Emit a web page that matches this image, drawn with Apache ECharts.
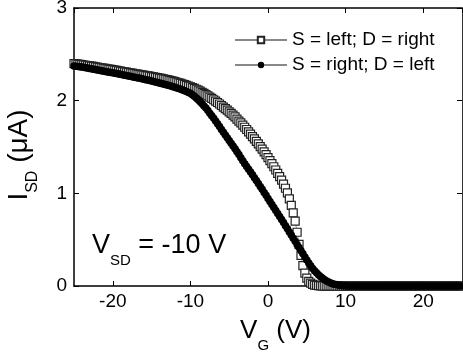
<!DOCTYPE html>
<html>
<head>
<meta charset="utf-8">
<script src="https://cdn.jsdelivr.net/npm/echarts@6/dist/echarts.min.js"></script>
<style>
html,body{margin:0;padding:0;background:#fff;}
#chart{width:463px;height:352px;}
</style>
</head>
<body>
<div id="chart"></div>
<script>
// Gate-voltage sweep: V_G from -25 V to 25 V in 0.25 V steps
const vgStart = -25;
const vgStep = 0.25;

const seriesNames = ['S = left; D = right', 'S = right; D = left'];

// I_SD (uA), S = left; D = right (open squares)
const iSLeft = [
  2.40, 2.397, 2.394, 2.391,
  2.388, 2.385, 2.382, 2.379,
  2.376, 2.372, 2.369, 2.365,
  2.362, 2.358, 2.355, 2.351,
  2.348, 2.344, 2.341, 2.337,
  2.334, 2.33, 2.326, 2.322,
  2.318, 2.314, 2.31, 2.307,
  2.304, 2.3, 2.297, 2.293,
  2.29, 2.286, 2.282, 2.279,
  2.275, 2.271, 2.267, 2.264,
  2.26, 2.256, 2.252, 2.248,
  2.244, 2.24, 2.235, 2.231,
  2.226, 2.221, 2.216, 2.211,
  2.205, 2.199, 2.193, 2.187,
  2.18, 2.173, 2.166, 2.158,
  2.15, 2.141, 2.132, 2.123,
  2.113, 2.102, 2.09, 2.078,
  2.065, 2.052, 2.038, 2.024,
  2.01, 1.995, 1.98, 1.964,
  1.948, 1.931, 1.914, 1.897,
  1.88, 1.862, 1.844, 1.825,
  1.80, 1.78, 1.76, 1.737,
  1.713, 1.689, 1.664, 1.639,
  1.613, 1.587, 1.56, 1.533,
  1.505, 1.476, 1.447, 1.417,
  1.386, 1.354, 1.321, 1.287,
  1.252, 1.216, 1.18, 1.142,
  1.10, 1.055, 1.005, 0.94,
  0.87, 0.79, 0.70, 0.58,
  0.45, 0.33, 0.22, 0.14,
  0.085, 0.05, 0.03, 0.018,
  0.01, 0.006, 0.003, 0.001,
  0, 0, 0, 0,
  0, 0, 0, 0,
  0, 0, 0, 0,
  0, 0, 0, 0,
  0, 0, 0, 0,
  0, 0, 0, 0,
  0, 0, 0, 0,
  0, 0, 0, 0,
  0, 0, 0, 0,
  0, 0, 0, 0,
  0, 0, 0, 0,
  0, 0, 0, 0,
  0, 0, 0, 0,
  0, 0, 0, 0,
  0, 0, 0, 0,
  0, 0, 0, 0,
  0, 0, 0, 0,
  0, 0, 0, 0,
  0
];

// I_SD (uA), S = right; D = left (filled circles)
const iSRight = [
  2.375, 2.372, 2.369, 2.366,
  2.363, 2.36, 2.356, 2.352,
  2.348, 2.344, 2.34, 2.336,
  2.332, 2.328, 2.324, 2.32,
  2.316, 2.312, 2.308, 2.304,
  2.30, 2.296, 2.292, 2.288,
  2.284, 2.28, 2.275, 2.271,
  2.267, 2.263, 2.258, 2.254,
  2.25, 2.245, 2.241, 2.236,
  2.232, 2.227, 2.222, 2.217,
  2.212, 2.207, 2.202, 2.196,
  2.19, 2.185, 2.18, 2.175,
  2.17, 2.164, 2.158, 2.151,
  2.145, 2.138, 2.13, 2.123,
  2.115, 2.107, 2.098, 2.089,
  2.08, 2.064, 2.047, 2.029,
  2.01, 1.988, 1.966, 1.943,
  1.92, 1.893, 1.865, 1.838,
  1.81, 1.78, 1.75, 1.72,
  1.69, 1.66, 1.63, 1.6,
  1.57, 1.54, 1.51, 1.48,
  1.45, 1.418, 1.385, 1.352,
  1.32, 1.29, 1.26, 1.23,
  1.2, 1.169, 1.138, 1.106,
  1.075, 1.043, 1.01, 0.978,
  0.945, 0.912, 0.88, 0.847,
  0.815, 0.782, 0.75, 0.717,
  0.685, 0.651, 0.618, 0.584,
  0.55, 0.516, 0.483, 0.449,
  0.415, 0.381, 0.347, 0.313,
  0.28, 0.249, 0.219, 0.19,
  0.165, 0.142, 0.121, 0.102,
  0.085, 0.07, 0.057, 0.045,
  0.035, 0.027, 0.02, 0.015,
  0.011, 0.008, 0.005, 0.003,
  0.002, 0.001, 0.001, 0,
  0, 0, 0, 0,
  0, 0, 0, 0,
  0, 0, 0, 0,
  0, 0, 0, 0,
  0, 0, 0, 0,
  0, 0, 0, 0,
  0, 0, 0, 0,
  0, 0, 0, 0,
  0, 0, 0, 0,
  0, 0, 0, 0,
  0, 0, 0, 0,
  0, 0, 0, 0,
  0, 0, 0, 0,
  0, 0, 0, 0,
  0
];

const xRange = [-25, 25];
const yTicks = [0, 1, 2, 3];

function toPairs(arr) {
  return arr.map(function (v, i) { return [vgStart + i * vgStep, v]; });
}

const FONT = '"Liberation Sans", Arial, Helvetica, sans-serif';
const chart = echarts.init(document.getElementById('chart'), null, { renderer: 'canvas' });

const axisLineStyle = { color: '#000', width: 1.5 };

const option = {
  animation: false,
  backgroundColor: '#fff',
  textStyle: { fontFamily: FONT, color: '#000' },
  grid: { left: 74, right: 1, top: 8, bottom: 66, containLabel: false, outerBoundsMode: 'none' },
  legend: {
    data: seriesNames,
    orient: 'vertical',
    left: 229,
    top: 25,
    padding: 5,
    itemWidth: 52,
    itemHeight: 8,
    itemGap: 5,
    selectedMode: false,
    textStyle: { fontFamily: FONT, fontSize: 19, color: '#000', lineHeight: 20 }
  },
  xAxis: [
    {
      type: 'value', min: xRange[0], max: xRange[1], splitNumber: 5, position: 'bottom',
      axisLine: { onZero: false, lineStyle: axisLineStyle },
      axisTick: { inside: true, length: 5, lineStyle: { color: '#000', width: 1 } },
      axisLabel: { showMinLabel: false, showMaxLabel: false, fontFamily: FONT, fontSize: 19, color: '#000', margin: 6 },
      splitLine: { show: false },
      name: '{m|V}{s|G}{m| (V)}',
      nameLocation: 'middle',
      nameGap: 32,
      nameTextStyle: {
        padding: [0, 0, 0, 15],
        rich: {
          m: { fontFamily: FONT, fontSize: 26, lineHeight: 28, verticalAlign: 'top', color: '#000' },
          s: { fontFamily: FONT, fontSize: 15, lineHeight: 15, verticalAlign: 'top', padding: [20, 0, 0, 0], color: '#000' }
        }
      }
    },
    {
      type: 'value', min: xRange[0], max: xRange[1], splitNumber: 5, position: 'top',
      axisLine: { onZero: false, lineStyle: axisLineStyle },
      axisTick: { inside: true, length: 5, lineStyle: { color: '#000', width: 1 } },
      axisLabel: { show: false },
      splitLine: { show: false }
    }
  ],
  yAxis: [
    {
      type: 'value', min: yTicks[0], max: yTicks[yTicks.length - 1], interval: 1, position: 'left',
      axisLine: { onZero: false, lineStyle: axisLineStyle },
      axisTick: { inside: true, length: 5, lineStyle: { color: '#000', width: 1 } },
      axisLabel: { fontFamily: FONT, fontSize: 19, color: '#000', margin: 7 },
      splitLine: { show: false },
      name: '{m|I}{s|SD}{m| (μA)}',
      nameLocation: 'middle',
      nameGap: 41,
      nameTextStyle: {
        padding: [0, 16, 0, 0],
        rich: {
          m: { fontFamily: FONT, fontSize: 28, lineHeight: 28, verticalAlign: 'top', color: '#000' },
          s: { fontFamily: FONT, fontSize: 16, lineHeight: 16, verticalAlign: 'top', padding: [20, 0, 0, 0], color: '#000' }
        }
      }
    },
    {
      type: 'value', min: yTicks[0], max: yTicks[yTicks.length - 1], interval: 1, position: 'right',
      axisLine: { onZero: false, lineStyle: { color: '#333', width: 1 } },
      axisTick: { inside: true, length: 5, lineStyle: { color: '#000', width: 1 } },
      axisLabel: { show: false },
      splitLine: { show: false }
    }
  ],
  graphic: [
    {
      type: 'text',
      left: 92,
      top: 232,
      silent: true,
      style: {
        text: '{m|V}{s|SD}{m| = -10 V}',
        fill: '#000',
        rich: {
          m: { fontFamily: FONT, fontSize: 27, lineHeight: 28, verticalAlign: 'top', fill: '#000' },
          s: { fontFamily: FONT, fontSize: 15, lineHeight: 15, verticalAlign: 'top', padding: [21, 0, 0, 0], fill: '#000' }
        }
      }
    }
  ],
  series: [
    {
      name: seriesNames[1],
      type: 'line',
      data: toPairs(iSRight),
      symbol: 'circle',
      symbolSize: 7.5,
      showSymbol: true,
      itemStyle: { color: '#000' },
      lineStyle: { color: '#888', width: 0.8 },
      emphasis: { disabled: true },
      silent: true,
      z: 3
    },
    {
      name: seriesNames[0],
      type: 'line',
      data: toPairs(iSLeft),
      symbol: 'rect',
      symbolSize: 8,
      showSymbol: true,
      itemStyle: { color: '#fff', borderColor: '#222', borderWidth: 1.2 },
      lineStyle: { color: '#888', width: 0.8 },
      emphasis: { disabled: true },
      silent: true,
      z: 2
    }
  ]
};

chart.setOption(option);
</script>
</body>
</html>
